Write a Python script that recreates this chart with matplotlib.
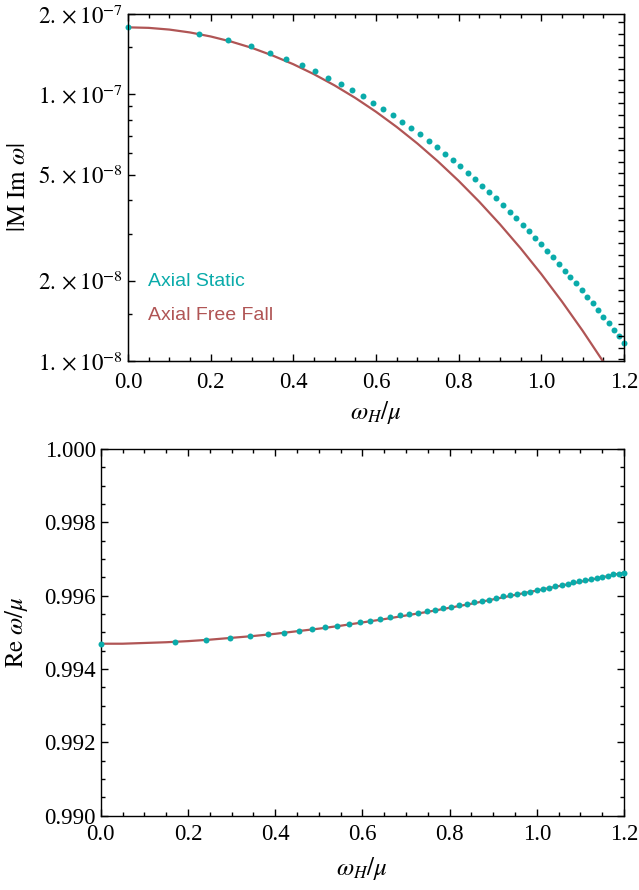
import numpy as np
import matplotlib
matplotlib.use("Agg")
import matplotlib.pyplot as plt
from matplotlib.ticker import FixedLocator, FixedFormatter, MultipleLocator

plt.rcParams['font.family'] = ['Liberation Serif', 'DejaVu Serif']
plt.rcParams['mathtext.fontset'] = 'stix'

# ---------------- data ----------------
omega_H_static = [0.0, 0.1714, 0.2424, 0.2969, 0.3429, 0.3833, 0.4199, 0.4536, 0.4849, 0.5143,
                  0.5421, 0.5686, 0.5938, 0.6181, 0.6414, 0.6639, 0.6857, 0.7068, 0.7273, 0.7472,
                  0.7666, 0.7856, 0.8041, 0.8221, 0.8398, 0.8571, 0.8741, 0.8908, 0.9071, 0.9232,
                  0.9390, 0.9545, 0.9697, 0.9848, 0.9996, 1.0142, 1.0286, 1.0428, 1.0568, 1.0706,
                  1.0842, 1.0977, 1.1110, 1.1241, 1.1371, 1.1500, 1.1627, 1.1752, 1.1877, 1.2000]

im_static = [1.783e-7, 1.687e-7, 1.598e-7, 1.513e-7, 1.432e-7, 1.359e-7, 1.291e-7, 1.223e-7, 1.154e-7, 1.096e-7,
             1.038e-7, 9.83e-8, 9.30e-8, 8.81e-8, 8.34e-8, 7.89e-8, 7.47e-8, 7.08e-8, 6.70e-8, 6.34e-8,
             5.99e-8, 5.67e-8, 5.37e-8, 5.08e-8, 4.80e-8, 4.54e-8, 4.29e-8, 4.07e-8, 3.83e-8, 3.63e-8,
             3.44e-8, 3.24e-8, 3.07e-8, 2.90e-8, 2.74e-8, 2.59e-8, 2.45e-8, 2.31e-8, 2.18e-8, 2.06e-8,
             1.956e-8, 1.841e-8, 1.737e-8, 1.646e-8, 1.553e-8, 1.466e-8, 1.388e-8, 1.310e-8, 1.237e-8, 1.165e-8]

re_static = [0.99469, 0.99474, 0.99479, 0.99485, 0.99490, 0.99495, 0.99499, 0.99504, 0.99509, 0.99514,
             0.99518, 0.99523, 0.99528, 0.99532, 0.99537, 0.99541, 0.99546, 0.99550, 0.99554, 0.99559,
             0.99562, 0.99567, 0.99570, 0.99574, 0.99578, 0.99582, 0.99586, 0.99589, 0.99594, 0.99598,
             0.99601, 0.99605, 0.99608, 0.99611, 0.99615, 0.99619, 0.99622, 0.99626, 0.99629, 0.99632,
             0.99636, 0.99640, 0.99642, 0.99646, 0.99649, 0.99652, 0.99655, 0.99658, 0.99660, 0.99663]

omega_H_ff = [0.0, 0.05, 0.1, 0.15, 0.2, 0.25, 0.3, 0.35, 0.4, 0.45, 0.5, 0.55, 0.6,
              0.65, 0.7, 0.75, 0.8, 0.85, 0.9, 0.95, 1.0, 1.05, 1.1, 1.15, 1.2]
im_freefall = [1.782e-7, 1.774e-7, 1.748e-7, 1.705e-7, 1.647e-7, 1.575e-7, 1.492e-7, 1.397e-7,
               1.296e-7, 1.189e-7, 1.079e-7, 9.687e-8, 8.598e-8, 7.543e-8, 6.540e-8, 5.599e-8,
               4.735e-8, 3.952e-8, 3.254e-8, 2.644e-8, 2.117e-8, 1.670e-8, 1.298e-8, 9.93e-9, 7.47e-9]
re_freefall = [0.99469, 0.99469, 0.99471, 0.99473, 0.99476, 0.99480, 0.99485, 0.99490, 0.99496,
               0.99503, 0.99510, 0.99518, 0.99527, 0.99536, 0.99546, 0.99556, 0.99567, 0.99578,
               0.99590, 0.99602, 0.99614, 0.99626, 0.99638, 0.99650, 0.99663]

x_ticks = [0.0, 0.2, 0.4, 0.6, 0.8, 1.0, 1.2]
x_ticklabels = ["0.0", "0.2", "0.4", "0.6", "0.8", "1.0", "1.2"]
im_ticks = [1e-8, 2e-8, 5e-8, 1e-7, 2e-7]
im_ticklabels = [r"$1.\times10^{-8}$", r"$2.\times10^{-8}$", r"$5.\times10^{-8}$",
                 r"$1.\times10^{-7}$", r"$2.\times10^{-7}$"]
im_minor = [1.5e-8, 3e-8, 4e-8, 6e-8, 7e-8, 8e-8, 9e-8, 1.5e-7]
re_ticks = [0.990, 0.992, 0.994, 0.996, 0.998, 1.000]
re_ticklabels = ["0.990", "0.992", "0.994", "0.996", "0.998", "1.000"]

teal = "#0AABAA"
red = "#B05555"
FS = 16.5
LFS = 18

fig = plt.figure(figsize=(6.39, 8.90), dpi=100)
ax1 = fig.add_axes([0.2003, 0.5944, 0.9765 - 0.2003, 0.9843 - 0.5944])
ax2 = fig.add_axes([0.1576, 0.0835, 0.9765 - 0.1576, 0.4955 - 0.0835])

def style(ax):
    ax.tick_params(which='both', direction='in', top=True, right=True, labelsize=FS, width=1.0)
    ax.tick_params(which='major', length=5)
    ax.tick_params(which='minor', length=3)
    for s in ax.spines.values():
        s.set_linewidth(1.0)

# ---------- top panel ----------
ax1.set_yscale('log')
ax1.plot(omega_H_ff, im_freefall, color=red, lw=1.6, zorder=2)
ax1.plot(omega_H_static, im_static, 'o', color=teal, ms=4.3, mec='none', zorder=3, clip_on=False)
ax1.set_xlim(0, 1.2)
ax1.set_ylim(1e-8, 2e-7)
ax1.xaxis.set_major_locator(FixedLocator(x_ticks))
ax1.xaxis.set_major_formatter(FixedFormatter(x_ticklabels))
ax1.xaxis.set_minor_locator(MultipleLocator(0.05))
ax1.yaxis.set_major_locator(FixedLocator(im_ticks))
ax1.yaxis.set_major_formatter(FixedFormatter(im_ticklabels))
ax1.yaxis.set_minor_locator(FixedLocator(im_minor))
ax1.yaxis.set_minor_formatter(FixedFormatter([]))
style(ax1)
ax1.tick_params(axis='y', which='both', right=False)
ax1.tick_params(axis='x', pad=8)
# right-hand frame ticks (evenly spaced in the log coordinate)
axr = ax1.twinx()
axr.set_ylim(np.log10(1e-8), np.log10(2e-7))
lo = np.log10(1e-8) + 0.0063
axr.yaxis.set_major_locator(FixedLocator(lo + 0.0436 * np.arange(30)))
axr.tick_params(axis='y', direction='in', length=4, width=1.0, labelright=False)
axr.tick_params(axis='y', which='minor', length=0)
ax1.set_xlabel(r"$\omega_H/\mu$", fontsize=LFS, labelpad=4)
ax1.set_ylabel(r"$|\mathrm{M\ Im}\ \omega|$", fontsize=LFS)
ax1.yaxis.set_label_coords(-0.198, 0.5)
ax1.text(0.04, 0.228, "Axial Static", transform=ax1.transAxes, color=teal,
         fontsize=14, family=['Liberation Sans', 'DejaVu Sans'], va='center')
ax1.text(0.04, 0.130, "Axial Free Fall", transform=ax1.transAxes, color=red,
         fontsize=14, family=['Liberation Sans', 'DejaVu Sans'], va='center')

# ---------- bottom panel ----------
ax2.plot(omega_H_ff, re_freefall, color=red, lw=1.6, zorder=2)
ax2.plot(omega_H_static, re_static, 'o', color=teal, ms=4.3, mec='none', zorder=3, clip_on=False)
ax2.set_xlim(0, 1.2)
ax2.set_ylim(0.990, 1.000)
ax2.xaxis.set_major_locator(FixedLocator(x_ticks))
ax2.xaxis.set_major_formatter(FixedFormatter(x_ticklabels))
ax2.xaxis.set_minor_locator(MultipleLocator(0.05))
ax2.yaxis.set_major_locator(FixedLocator(re_ticks))
ax2.yaxis.set_major_formatter(FixedFormatter(re_ticklabels))
ax2.yaxis.set_minor_locator(MultipleLocator(0.0005))
style(ax2)
ax2.tick_params(axis='x', pad=6)
ax2.set_xlabel(r"$\omega_H/\mu$", fontsize=LFS, labelpad=7)
ax2.set_ylabel(r"$\mathrm{Re}\ \omega/\mu$", fontsize=LFS)
ax2.yaxis.set_label_coords(-0.135, 0.5)

fig.savefig("out.png", dpi=100)
